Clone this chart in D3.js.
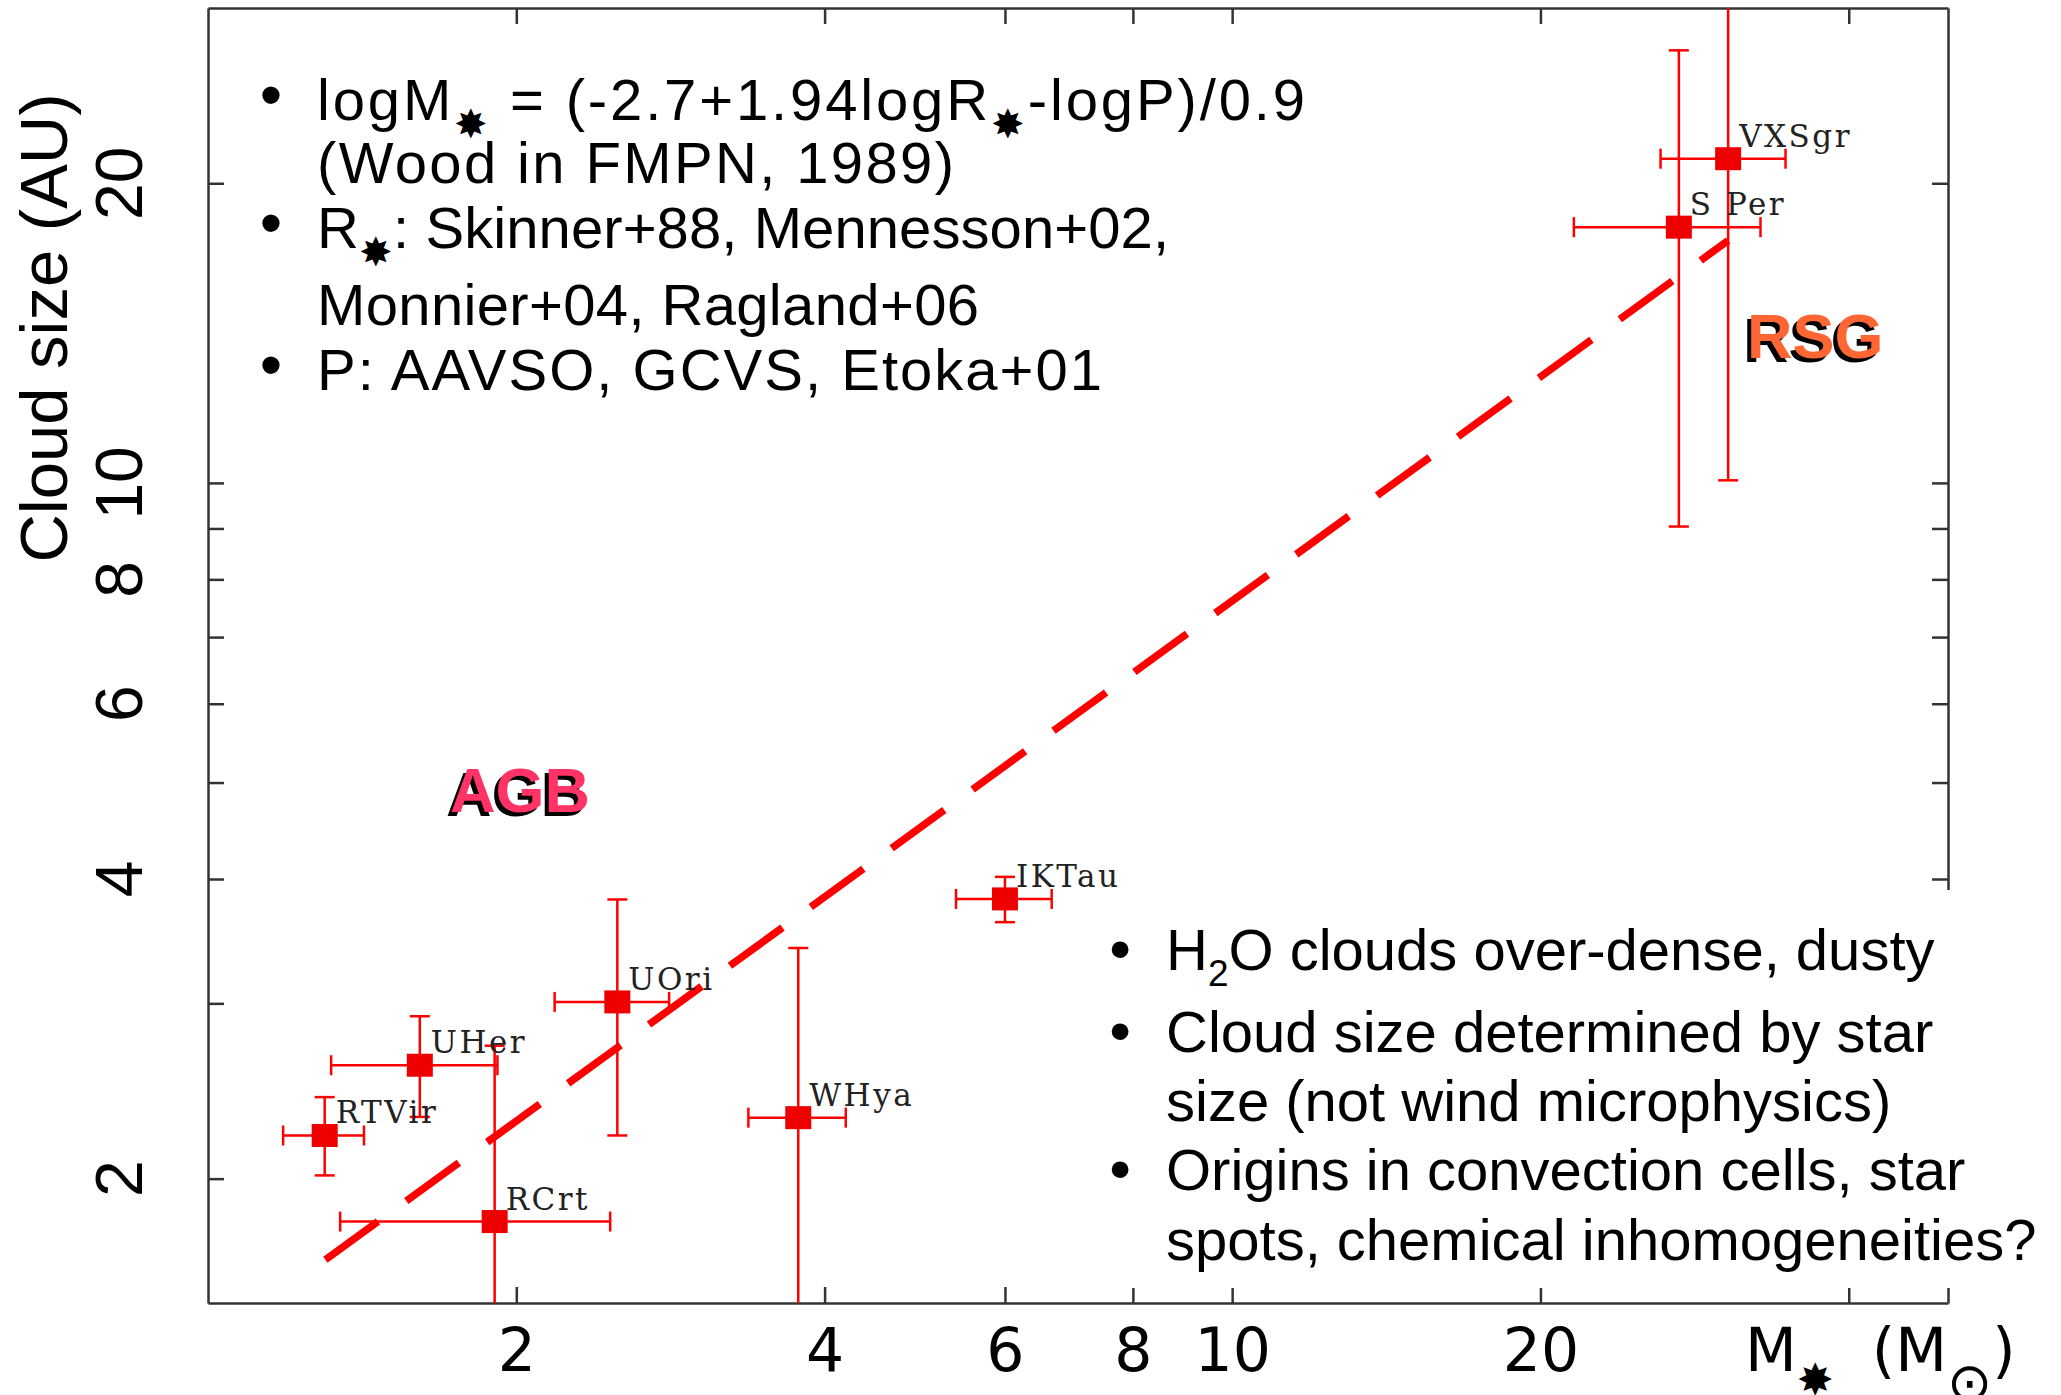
<!DOCTYPE html>
<html>
<head>
<meta charset="utf-8">
<script src="https://cdn.jsdelivr.net/npm/d3@7"></script>
<style>
  body { margin: 0; background: #fff; }
  text { white-space: pre; }
</style>
</head>
<body>
<div id="chart"></div>
<script>
'use strict';

// stars: name, mass (Msun) with range, cloud size (AU) with range
const starNames = ['RTVir', 'UHer', 'RCrt', 'UOri', 'WHya', 'IKTau', 'S Per', 'VXSgr'];
const starMass   = [1.30, 1.61, 1.905, 2.51, 3.77, 6.0, 27.3, 30.5];
const starMassLo = [1.184, 1.319, 1.346, 2.18, 3.37, 5.375, 21.56, 26.2];
const starMassHi = [1.42, 1.917, 2.47, 2.82, 4.195, 6.665, 32.8, 34.7];
const cloudSize   = [2.21, 2.60, 1.811, 3.01, 2.303, 3.82, 18.07, 21.17];
const cloudSizeLo = [2.015, 2.307, 1.2, 2.21, 1.2, 3.62, 9.04, 10.06];
const cloudSizeHi = [2.415, 2.912, 2.72, 3.815, 3.41, 4.02, 27.2, 45];

// dashed fit line end points
const fitMass = [1.302, 30.5];
const fitSize = [1.658, 17.52];

// axis ticks
const massTicks  = [2, 4, 6, 8, 10, 20, 40];
const massLabels = [2, 4, 6, 8, 10, 20];
const sizeTicks  = [2, 3, 4, 5, 6, 7, 8, 9, 10, 20];
const sizeLabels = [2, 4, 6, 8, 10, 20];

// annotation text, segments marked 'sub' are lowered
const notesTop = [
  {bullet: true,  seg: [['logM'], ['✸', 'sub'], [' = (-2.7+1.94logR'], ['✸', 'sub'], ['-logP)/0.9']]},
  {bullet: false, seg: [['(Wood in FMPN, 1989)']]},
  {bullet: true,  seg: [['R'], ['✸', 'sub'], [': Skinner+88, Mennesson+02,']]},
  {bullet: false, seg: [['Monnier+04, Ragland+06']]},
  {bullet: true,  seg: [['P: AAVSO, GCVS, Etoka+01']]}
];

const notesBottom = [
  {bullet: true,  seg: [['H'], ['2', 'sub'], ['O clouds over-dense, dusty']]},
  {bullet: true,  seg: [['Cloud size determined by star']]},
  {bullet: false, seg: [['size (not wind microphysics)']]},
  {bullet: true,  seg: [['Origins in convection cells, star']]},
  {bullet: false, seg: [['spots, chemical inhomogeneities?']]}
];

// layout of the two note blocks
const notesTopY = [120, 183, 248, 325, 390];
const notesTopLen = [988, 637, 852, 662, 785];
const notesBottomY = [970, 1052, 1121, 1190, 1260];

const width = 2061;
const height = 1395;
const margin = {top: 8, right: 113, bottom: 92, left: 208};

const svg = d3.select('#chart').append('svg')
    .attr('width', width)
    .attr('height', height)
    .style('font-family', 'DejaVu Sans');

const x = d3.scaleLog().domain([1, 50]).range([margin.left, width - margin.right]);
const y = d3.scaleLog().domain([1.5, 30]).range([height - margin.bottom, margin.top]);

svg.append('defs').append('clipPath').attr('id', 'plot-clip')
  .append('rect')
    .attr('x', x.range()[0]).attr('y', y.range()[1])
    .attr('width', x.range()[1] - x.range()[0])
    .attr('height', y.range()[0] - y.range()[1]);

// axes, ticks pointing inward on all four sides
const styleAxis = function(g) {
  g.selectAll('.domain').attr('stroke', '#333').attr('stroke-width', 2.5);
  g.selectAll('.tick line').attr('stroke', '#333').attr('stroke-width', 2.5);
};

svg.append('g')
    .attr('transform', `translate(0,${y.range()[0]})`)
    .call(d3.axisBottom(x).tickValues(massTicks).tickSize(-16).tickSizeOuter(0)
      .tickPadding(25)
      .tickFormat(d => massLabels.includes(d) ? d : ''))
    .call(styleAxis)
    .call(g => g.selectAll('text')
      .attr('fill', '#000')
      .style('font-family', 'DejaVu Sans')
      .style('font-size', '60px'));

svg.append('g')
    .attr('transform', `translate(0,${y.range()[1]})`)
    .call(d3.axisTop(x).tickValues(massTicks).tickSize(-16).tickSizeOuter(0).tickFormat(''))
    .call(styleAxis);

svg.append('g')
    .attr('transform', `translate(${x.range()[0]},0)`)
    .call(d3.axisLeft(y).tickValues(sizeTicks).tickSize(-16).tickSizeOuter(0).tickFormat(''))
    .call(styleAxis);

svg.append('g')
    .attr('transform', `translate(${x.range()[1]},0)`)
    .call(d3.axisRight(y).tickValues(sizeTicks).tickSize(-16).tickSizeOuter(0).tickFormat(''))
    .call(styleAxis);

// rotated y tick labels
svg.append('g').selectAll('text')
  .data(sizeLabels)
  .join('text')
    .attr('transform', d => `translate(142,${y(d)}) rotate(-90)`)
    .attr('text-anchor', 'middle')
    .style('font-family', 'Liberation Sans')
    .style('font-size', '66px')
    .text(d => d);

svg.append('text')
    .attr('transform', 'translate(67,328) rotate(-90)')
    .attr('text-anchor', 'middle')
    .style('font-family', 'Liberation Sans')
    .style('font-size', '67px')
    .text('Cloud size (AU)');

// x axis title: M* (Msun)
const xTitle = svg.append('text')
    .attr('x', 1745).attr('y', 1371)
    .style('font-size', '60px');
xTitle.append('tspan').text('M');
xTitle.append('tspan').attr('dy', 24).style('font-size', '44px').text('✸');
xTitle.append('tspan').attr('dy', -24).text('  (M');
xTitle.append('tspan').attr('dy', 30).style('font-size', '54px').text('⊙');
xTitle.append('tspan').attr('dy', -30).text(')');

// data layer
const plot = svg.append('g').attr('clip-path', 'url(#plot-clip)');

const fitLine = d3.line()
    .x(d => x(d[0]))
    .y(d => y(d[1]));

plot.append('path')
    .datum(d3.zip(fitMass, fitSize))
    .attr('d', fitLine)
    .attr('fill', 'none')
    .attr('stroke', '#ff0000')
    .attr('stroke-width', 7.5)
    .attr('stroke-dasharray', '65,35');

const stars = d3.range(starNames.length);
const cap = 10;
const bars = plot.append('g')
    .attr('stroke', '#ff0000')
    .attr('stroke-width', 2.5);

stars.forEach(i => {
  const cx = x(starMass[i]);
  const cy = y(cloudSize[i]);
  const x0 = x(starMassLo[i]), x1 = x(starMassHi[i]);
  const y0 = y(cloudSizeLo[i]), y1 = y(cloudSizeHi[i]);
  bars.append('line').attr('x1', x0).attr('x2', x1).attr('y1', cy).attr('y2', cy);
  bars.append('line').attr('x1', x0).attr('x2', x0).attr('y1', cy - cap).attr('y2', cy + cap);
  bars.append('line').attr('x1', x1).attr('x2', x1).attr('y1', cy - cap).attr('y2', cy + cap);
  bars.append('line').attr('x1', cx).attr('x2', cx).attr('y1', y0).attr('y2', y1);
  bars.append('line').attr('x1', cx - cap).attr('x2', cx + cap).attr('y1', y0).attr('y2', y0);
  bars.append('line').attr('x1', cx - cap).attr('x2', cx + cap).attr('y1', y1).attr('y2', y1);
});

plot.append('g').selectAll('rect')
  .data(stars)
  .join('rect')
    .attr('x', i => x(starMass[i]) - 13)
    .attr('y', i => y(cloudSize[i]) - 11.5)
    .attr('width', 26)
    .attr('height', 23)
    .attr('fill', '#ee0000');

plot.append('g').selectAll('text')
  .data(stars)
  .join('text')
    .attr('x', i => x(starMass[i]) + 11)
    .attr('y', i => y(cloudSize[i]) - 12)
    .attr('fill', '#222')
    .style('font-family', 'DejaVu Serif')
    .style('font-size', '31px')
    .style('letter-spacing', '2.5px')
    .text(i => starNames[i]);

// class labels with drop shadow
const classLabel = function(label, lx, ly, colour) {
  const g = svg.append('g')
      .style('font-family', 'Liberation Sans')
      .style('font-weight', 'bold')
      .style('font-size', '63px');
  g.append('text').attr('x', lx - 4).attr('y', ly + 4).attr('fill', '#000').text(label);
  g.append('text').attr('x', lx).attr('y', ly).attr('fill', colour).text(label);
};
classLabel('AGB', 450, 812, '#ff3366');
classLabel('RSG', 1747, 358, '#ff6633');

// bullet notes
const writeNotes = function(lines, ys, opt) {
  const g = svg.append('g')
      .style('font-family', opt.font)
      .style('font-size', opt.size + 'px');
  lines.forEach((line, k) => {
    if (line.bullet) {
      g.append('text')
          .attr('x', opt.bulletX).attr('y', ys[k] + opt.bulletDy)
          .attr('text-anchor', 'middle')
          .style('font-size', opt.bulletSize + 'px')
          .text('•');
    }
    const t = g.append('text').attr('x', opt.textX).attr('y', ys[k]);
    if (opt.lens) {
      t.attr('textLength', opt.lens[k]).attr('lengthAdjust', 'spacing');
    }
    let shifted = false;
    line.seg.forEach(s => {
      const ts = t.append('tspan').text(s[0]);
      if (s[1] === 'sub') {
        ts.attr('dy', opt.subDy).style('font-size', opt.subSize + 'px');
        shifted = true;
      } else if (shifted) {
        ts.attr('dy', -opt.subDy);
        shifted = false;
      }
    });
  });
};

writeNotes(notesTop, notesTopY, {
  font: 'Liberation Sans', size: 58, textX: 317, lens: notesTopLen,
  bulletX: 271, bulletDy: -3, bulletSize: 64,
  subDy: 18, subSize: 40
});

svg.append('rect')
    .attr('x', 1100).attr('y', 890)
    .attr('width', width - 1100).attr('height', 398)
    .attr('fill', '#fff');

writeNotes(notesBottom, notesBottomY, {
  font: 'Liberation Sans', size: 58, textX: 1166,
  bulletX: 1120, bulletDy: 0, bulletSize: 62,
  subDy: 16, subSize: 37
});
</script>
</body>
</html>
